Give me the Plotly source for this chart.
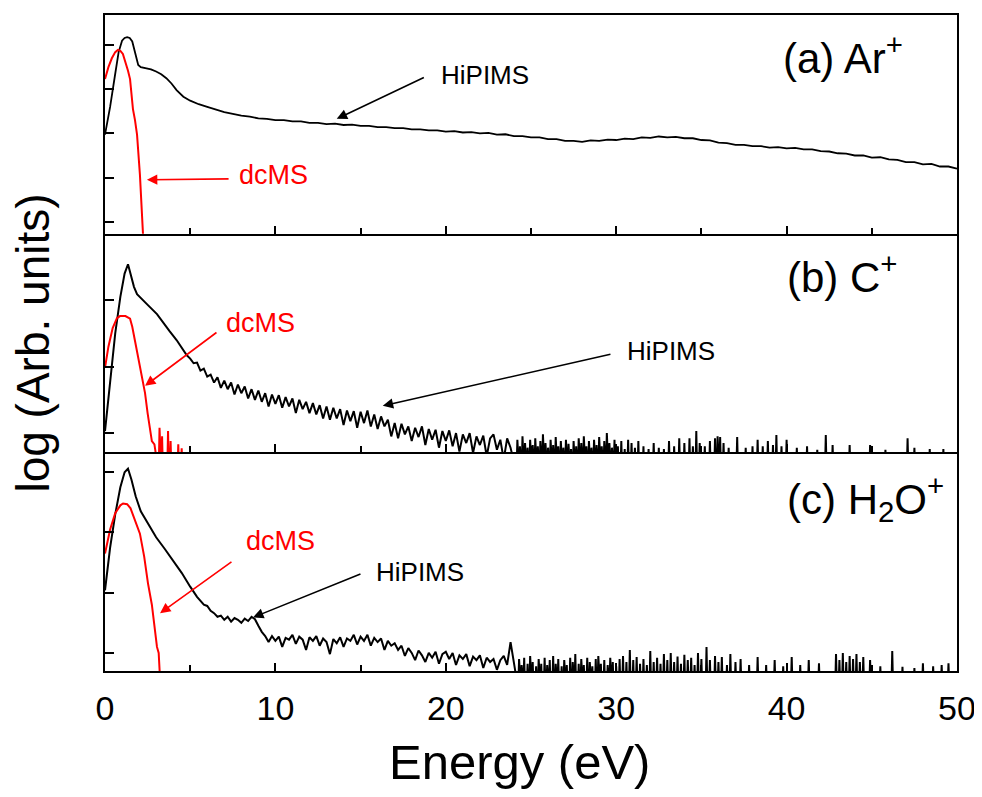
import numpy as np
import plotly.graph_objects as go

# ---------------- data (log10 of intensity, arbitrary units) ----------------
# Panel (a) Ar+
a_hip_e = [0, 0.3, 0.6, 0.8, 1.0, 1.15, 1.3, 1.45, 1.6, 1.8, 1.95, 2.1, 2.4, 2.7, 3.0, 3.3, 3.6, 3.9,
           4.2, 4.6, 5.0, 5.5, 6.0, 6.5, 7.0, 7.5, 8.0, 8.5, 9, 9.5, 10, 10.5, 11, 11.5, 12, 12.5, 13,
           13.5, 14, 14.5, 15, 15.5, 16, 16.5, 17, 17.5, 18, 18.5, 19, 19.5, 20, 20.5, 21, 21.5, 22,
           22.5, 23, 23.5, 24, 24.5, 25, 25.5, 26, 26.5, 27, 27.5, 28, 28.5, 29, 29.5, 30, 30.5, 31,
           31.5, 32, 32.5, 33, 33.5, 34, 34.5, 35, 35.5, 36, 36.5, 37, 37.5, 38, 38.5, 39, 39.5, 40,
           40.5, 41, 41.5, 42, 42.5, 43, 43.5, 44, 44.5, 45, 45.5, 46, 46.5, 47, 47.5, 48, 48.5, 49,
           49.5, 50]
a_hip_log = [1.97, 2.6, 3.35, 3.84, 4.1, 4.16, 4.18, 4.16, 4.08, 3.8, 3.55, 3.5, 3.48, 3.45, 3.40, 3.34,
             3.25, 3.13, 2.98, 2.83, 2.74, 2.66, 2.60, 2.54, 2.48, 2.44, 2.40, 2.38, 2.34, 2.33, 2.30,
             2.30, 2.27, 2.27, 2.24, 2.24, 2.21, 2.22, 2.19, 2.2, 2.17, 2.17, 2.14, 2.14, 2.12, 2.12, 2.09,
             2.09, 2.07, 2.07, 2.04, 2.05, 2.02, 2.03, 2.0, 2.01, 1.97, 1.98, 1.94, 1.94, 1.91, 1.91, 1.87,
             1.87, 1.83, 1.83, 1.81, 1.84, 1.83, 1.86, 1.85, 1.88, 1.87, 1.91, 1.90, 1.93, 1.91, 1.92,
             1.89, 1.89, 1.85, 1.84, 1.79, 1.78, 1.74, 1.74, 1.71, 1.71, 1.68, 1.69, 1.66, 1.67, 1.64,
             1.64, 1.60, 1.59, 1.55, 1.54, 1.50, 1.50, 1.45, 1.46, 1.41, 1.40, 1.35, 1.35, 1.30, 1.31,
             1.25, 1.25, 1.20, 1.20, 1.17]
a_dc_e = [0, 0.2, 0.4, 0.6, 0.76, 0.9, 1.05, 1.2, 1.35, 1.47, 1.64, 1.76, 1.88, 2.05, 2.15, 2.23, 2.3]
a_dc_log = [3.23, 3.5, 3.7, 3.84, 3.89, 3.87, 3.8, 3.62, 3.42, 3.23, 2.55, 2.3, 1.97, 1.06, 0.4, -0.23, -0.8]

# Panel (b) C+
b_hip_e = [0, 0.3, 0.6, 0.9, 1.15, 1.35, 1.5, 1.7, 1.88, 2.2, 2.46, 3.05, 3.4, 3.8, 4.2, 4.58, 4.8,
           5.0, 5.2, 5.4, 5.6, 5.8, 6.0, 6.2, 6.4, 6.6, 6.8, 7.0, 7.2, 7.4, 7.6, 7.8, 8.0, 8.2, 8.4,
           8.6, 8.8, 9.0, 9.2, 9.4, 9.6, 9.8, 10.0, 10.2, 10.4, 10.6, 10.8, 11.0, 11.2, 11.4, 11.6,
           11.8, 12.0, 12.2, 12.4, 12.6, 12.8, 13.0, 13.2, 13.4, 13.6, 13.8, 14.0, 14.2, 14.4, 14.6,
           14.8, 15.0, 15.2, 15.4, 15.6, 15.8, 16.0, 16.2, 16.4, 16.6, 16.8, 17.0, 17.2, 17.4, 17.6,
           17.8, 18.0, 18.2, 18.4, 18.6, 18.8, 19.0, 19.2, 19.4, 19.6, 19.8, 20.0, 20.2, 20.4, 20.6,
           20.8, 21.0, 21.2, 21.4, 21.6, 21.8, 22.0, 22.2, 22.4, 22.6, 22.8, 23.0, 23.2, 23.4, 23.6,
           23.8, 24.0]
b_hip_log = [0.03, 0.8, 1.5, 2.05, 2.4, 2.54, 2.4, 2.2, 2.09, 2.0, 1.94, 1.79, 1.66, 1.53, 1.4, 1.26,
             1.17,
             1.12, 1.05, 1.06, 0.94, 0.97, 0.85, 0.88, 0.76, 0.84, 0.68,
             0.79, 0.66, 0.76, 0.58, 0.73, 0.6, 0.7, 0.52, 0.66, 0.5,
             0.64, 0.47, 0.6, 0.4, 0.58, 0.44, 0.57, 0.38, 0.54, 0.4,
             0.52, 0.3, 0.5, 0.36, 0.47, 0.3, 0.45, 0.28, 0.42, 0.22,
             0.4, 0.2, 0.38, 0.22, 0.36, 0.12, 0.34, 0.18, 0.33, 0.08,
             0.32, 0.15, 0.34, 0.1, 0.28, 0.06, 0.25, 0.1, 0.2, -0.05,
             0.15, -0.08, 0.14, -0.02, 0.1, -0.12, 0.08, -0.06, 0.1, -0.18,
             0.06, -0.1, 0.05, -0.22, 0.03, -0.12, 0.04, -0.2, 0.0, -0.28,
             -0.02, -0.15, 0.0, -0.3, -0.05, -0.18, -0.04, -0.35, -0.08, -0.02,
             -0.25, -0.1, -0.4, -0.08, -0.22, -0.45]
b_hip_spike_e = [24.2, 24.35, 24.5, 24.65, 24.8, 24.95, 25.1, 25.25, 25.4, 25.55, 25.7, 25.85, 26.0,
                 26.15, 26.3, 26.45, 26.6, 26.75, 26.9, 27.05, 27.2, 27.35, 27.5, 27.65, 27.8, 27.95,
                 28.1, 28.25, 28.4, 28.55, 28.7, 28.85, 29.0, 29.15, 29.3, 29.45, 29.6, 29.75, 29.9,
                 30.1, 30.3, 30.5, 30.7, 30.9, 31.1, 31.3, 31.6, 31.9, 32.2, 32.5, 32.8, 33.1, 33.4,
                 33.7, 34.0, 34.3, 34.5, 34.7, 34.9, 35.2, 35.5, 35.8, 35.95, 36.1, 36.3, 36.6, 37.1,
                 37.6, 38.0, 38.3, 38.6, 38.9, 39.2, 39.4, 39.7, 40.0, 40.6, 41.2, 41.8, 42.3, 42.7,
                 43.7, 44.9, 45.8, 47.1, 47.5, 48.4, 49.2]
b_hip_spike_log = [-0.1, -0.2, -0.05, -0.15, -0.22, -0.1, -0.18, -0.08, -0.2, -0.12, -0.02, -0.15,
                   -0.22, -0.1, -0.18, -0.06, -0.2, -0.12, -0.22, -0.1, -0.16, -0.24, -0.12, -0.2,
                   -0.08, -0.15, -0.05, -0.2, -0.12, -0.22, -0.1, -0.18, -0.06, -0.2, -0.12, 0.0,
                   -0.15, -0.22, -0.1, -0.2, -0.12, -0.24, -0.1, -0.15, -0.22, -0.12, -0.2, -0.24,
                   -0.15, -0.22, -0.24, -0.12, -0.2, -0.08, -0.15, -0.08, -0.2, 0.03, -0.15, -0.2,
                   -0.12, -0.08, -0.05, -0.06, -0.15, -0.22, -0.06, -0.22, -0.2, -0.1, -0.2, -0.12,
                   -0.18, -0.03, -0.2, -0.1, -0.22, -0.2, -0.25, -0.03, -0.18, -0.18, -0.18, -0.25,
                   -0.08, -0.22, -0.24, -0.24]
b_dc_e = [0, 0.2, 0.45, 0.7, 0.88, 1.2, 1.47, 1.6, 1.75, 1.9, 2.05, 2.2, 2.35, 2.5, 2.64, 2.75, 2.9]
b_dc_log = [0.98, 1.3, 1.58, 1.73, 1.76, 1.76, 1.72, 1.6, 1.4, 1.2, 0.98, 0.8, 0.6, 0.3, 0.03, -0.12, -0.17]
b_dc_spike_e = [3.2, 3.35, 3.7, 3.85, 4.3, 4.5]
b_dc_spike_log = [0.08, -0.05, 0.03, -0.12, -0.17, -0.23]

# Panel (c) H2O+
c_hip_e = [0, 0.3, 0.6, 0.9, 1.15, 1.35, 1.55, 1.8, 2.1, 2.64, 3.0, 3.5, 4.0, 4.5, 5.0, 5.4, 5.8,
           6.0, 6.2, 6.4, 6.6, 6.8, 7.0, 7.2, 7.4, 7.6, 7.8, 8.0, 8.2, 8.4, 8.6, 8.8, 9.0, 9.2, 9.4,
           9.6, 9.8, 10.0, 10.2, 10.4, 10.6, 10.8, 11.0, 11.2, 11.4, 11.6, 11.8, 12.0, 12.2, 12.4,
           12.6, 12.8, 13.0, 13.2, 13.4, 13.6, 13.8, 14.0, 14.2, 14.4, 14.6, 14.8, 15.0, 15.2, 15.4,
           15.6, 15.8, 16.0, 16.2, 16.4, 16.6, 16.8, 17.0, 17.2, 17.4, 17.6, 17.8, 18.0, 18.2, 18.4,
           18.6, 18.8, 19.0, 19.2, 19.4, 19.6, 19.8, 20.0, 20.2, 20.4, 20.6, 20.8, 21.0, 21.2, 21.4,
           21.6, 21.8, 22.0, 22.2, 22.4, 22.6, 22.8, 23.0, 23.2, 23.4, 23.6, 23.8, 24.0]
c_hip_log = [1.04, 1.75, 2.3, 2.75, 3.0, 3.06, 2.88, 2.6, 2.35, 2.08, 1.92, 1.73, 1.54, 1.33, 1.1,
             0.93, 0.8, 0.78, 0.7, 0.66, 0.6, 0.62, 0.55, 0.6, 0.52, 0.58, 0.55, 0.5, 0.57, 0.53,
             0.6, 0.56, 0.45, 0.35, 0.28, 0.18, 0.28, 0.2, 0.27, 0.1, 0.25, 0.22, 0.3, 0.15, 0.27,
             0.22, 0.05, 0.26, 0.2, 0.28, 0.12, 0.24, 0.18, -0.02, 0.23, 0.16, 0.26, 0.1, 0.24, 0.2,
             0.3, 0.14, 0.27, 0.2, 0.3, 0.12, 0.25, 0.18, 0.24, 0.05, 0.2, 0.12, 0.16, 0.05, 0.12,
             -0.05, 0.08, 0.0, -0.12, 0.04, -0.04, -0.15, 0.0, -0.08, 0.02, -0.18, -0.02, 0.02,
             -0.1, 0.0, -0.2, -0.04, -0.1, -0.02, -0.22, -0.06, -0.12, -0.04, -0.25, -0.08, -0.15,
             -0.1, -0.28, -0.12, -0.05, -0.2, 0.18, -0.2]
c_hip_spike_e = [24.3, 24.45, 24.6, 24.8, 24.95, 25.1, 25.3, 25.45, 25.6, 25.8, 25.95, 26.1, 26.3,
                 26.45, 26.6, 26.8, 26.95, 27.1, 27.3, 27.45, 27.6, 27.8, 27.95, 28.1, 28.3, 28.45,
                 28.6, 28.8, 28.95, 29.1, 29.3, 29.5, 29.65, 29.8, 30.0, 30.2, 30.4, 30.6, 30.8, 31.0,
                 31.2, 31.4, 31.6, 31.8, 32.0, 32.2, 32.4, 32.6, 32.8, 33.0, 33.2, 33.4, 33.6, 33.8,
                 34.0, 34.2, 34.4, 34.6, 34.8, 35.0, 35.3, 35.5, 35.8, 36.0, 36.2, 36.5, 36.7, 37.0,
                 37.3, 37.8, 38.3, 38.8, 39.3, 39.8, 40.3, 40.8, 41.3, 41.9, 42.9, 43.1, 43.3, 43.5,
                 43.7, 43.9, 44.1, 44.3, 44.5, 44.9, 45.5, 46.2, 46.8, 47.5, 48.0, 48.6, 49.1, 49.5]
c_hip_spike_log = [-0.1, -0.2, -0.08, -0.18, -0.05, -0.15, -0.22, -0.1, -0.18, -0.08, -0.2, -0.12,
                   -0.05, -0.18, -0.1, -0.22, -0.12, -0.2, -0.08, -0.15, -0.02, -0.18, -0.1, -0.2,
                   -0.08, -0.15, -0.22, -0.1, -0.05, -0.18, -0.12, -0.2, -0.08, -0.15, -0.22, -0.1,
                   -0.05, -0.15, 0.05, -0.12, -0.07, -0.18, -0.1, -0.2, 0.03, -0.15, -0.08, -0.18,
                   -0.02, -0.12, 0.0, -0.15, -0.06, -0.18, -0.03, -0.12, -0.08, -0.2, 0.0, -0.1, 0.1,
                   -0.12, -0.05, -0.15, -0.07, -0.2, -0.02, -0.15, -0.1, -0.2, -0.07, -0.2, -0.12,
                   -0.22, -0.07, -0.2, -0.12, -0.17, -0.02, -0.12, 0.0, -0.15, -0.05, -0.1, -0.02,
                   -0.15, -0.07, -0.12, -0.22, 0.03, -0.23, -0.25, -0.17, -0.22, -0.2, -0.17]
c_dc_e = [0, 0.3, 0.6, 0.9, 1.06, 1.3, 1.5, 1.75, 2.05, 2.3, 2.52, 2.75, 2.93, 3.05, 3.15, 3.22, 3.3]
c_dc_log = [1.65, 2.05, 2.32, 2.45, 2.48, 2.47, 2.4, 2.2, 1.98, 1.6, 1.16, 0.8, 0.43, 0.1, 0.0, -0.28, -0.8]

NOISE_FLOOR_LOG = -0.6   # zero-count level, below the visible range


def with_spikes(e, v, spike_e, spike_v):
    """Append isolated single-channel spikes rising from the zero-count floor."""
    xs, ys = list(e), list(v)
    for se, sv in zip(spike_e, spike_v):
        xs += [se - 0.05, se, se + 0.05]
        ys += [NOISE_FLOOR_LOG, sv, NOISE_FLOOR_LOG]
    return xs, ys


def lin(v):
    return list(10 ** np.array(v, dtype=float))


BLACK = "#000000"
RED = "#ff0000"
FONT = "Liberation Sans, Arial, sans-serif"

fig = go.Figure()

# panel (a)
fig.add_trace(go.Scatter(x=a_hip_e, y=lin(a_hip_log), mode="lines",
                         line=dict(color=BLACK, width=1.8), xaxis="x", yaxis="y"))
fig.add_trace(go.Scatter(x=a_dc_e, y=lin(a_dc_log), mode="lines",
                         line=dict(color=RED, width=2), xaxis="x", yaxis="y"))
# panel (b)
bx, by = with_spikes(b_hip_e, b_hip_log, b_hip_spike_e, b_hip_spike_log)
fig.add_trace(go.Scatter(x=bx, y=lin(by), mode="lines",
                         line=dict(color=BLACK, width=2), xaxis="x2", yaxis="y2"))
bdx, bdy = with_spikes(b_dc_e, b_dc_log, b_dc_spike_e, b_dc_spike_log)
fig.add_trace(go.Scatter(x=bdx, y=lin(bdy), mode="lines",
                         line=dict(color=RED, width=2), xaxis="x2", yaxis="y2"))
# panel (c)
cx, cy = with_spikes(c_hip_e, c_hip_log, c_hip_spike_e, c_hip_spike_log)
fig.add_trace(go.Scatter(x=cx, y=lin(cy), mode="lines",
                         line=dict(color=BLACK, width=2), xaxis="x3", yaxis="y3"))
fig.add_trace(go.Scatter(x=c_dc_e, y=lin(c_dc_log), mode="lines",
                         line=dict(color=RED, width=2), xaxis="x3", yaxis="y3"))

xcommon = dict(range=[0, 50], tick0=0, dtick=10, ticks="inside", ticklen=8, tickwidth=1.5,
               tickcolor=BLACK, minor=dict(ticks="inside", dtick=5, ticklen=6, tickwidth=1.5,
                                           tickcolor=BLACK),
               showline=True, linecolor=BLACK, linewidth=2,
               showgrid=False, zeroline=False)
ycommon = dict(type="log", dtick=1, ticks="inside", ticklen=9, tickwidth=1.5, tickcolor=BLACK,
               showticklabels=False, showline=True, linecolor=BLACK, linewidth=2, mirror=True,
               showgrid=False, zeroline=False)

# the page body adds an 8px offset, so the figure is sized to fit the 982x797 window
fig.update_layout(
    width=974, height=781,
    margin=dict(l=97, r=25, t=5, b=118),
    paper_bgcolor="white", plot_bgcolor="white",
    showlegend=False,
    font=dict(family=FONT, color=BLACK),
    xaxis=dict(xcommon, anchor="y", mirror=True, showticklabels=False),
    xaxis2=dict(xcommon, anchor="y2", matches="x", mirror=False, showticklabels=False),
    xaxis3=dict(xcommon, anchor="y3", matches="x", mirror=False, showticklabels=True,
                tickfont=dict(size=34, family=FONT), ticklabelstandoff=6),
    yaxis=dict(ycommon, domain=[2 / 3, 1], range=[-0.27, 4.68]),
    yaxis2=dict(ycommon, domain=[1 / 3, 2 / 3], range=[-0.29, 3.0]),
    yaxis3=dict(ycommon, domain=[0, 1 / 3], range=[-0.30, 3.33]),
)

ann = []


def text(xref, yref, x, y, t, color, size, anchor="center"):
    ann.append(dict(xref=xref, yref=yref, x=x, y=y, text=t, showarrow=False,
                    font=dict(size=size, color=color, family=FONT), xanchor=anchor,
                    yanchor="middle"))


def arrow(xref, yref, x, y, ax, ay, color):
    ann.append(dict(xref=xref, yref=yref, x=x, y=y, ax=ax, ay=ay, axref=xref, ayref=yref,
                    text="", showarrow=True, arrowhead=2, arrowsize=1.3, arrowwidth=1.6,
                    arrowcolor=color))


# panel (a)
text("x", "y", 22.3, 3.32, "HiPIMS", BLACK, 26)
arrow("x", "y", 13.6, 2.33, 18.8, 3.28, BLACK)
text("x", "y", 9.86, 1.06, "dcMS", RED, 27)
arrow("x", "y", 2.46, 0.95, 7.34, 0.97, RED)
text("x", "y", 39.7, 3.77, "(a) Ar<sup>+</sup>", BLACK, 42, "left")
# panel (b)
text("x2", "y2", 9.15, 1.65, "dcMS", RED, 27)
arrow("x2", "y2", 2.35, 0.71, 6.63, 1.53, RED)
text("x2", "y2", 33.2, 1.23, "HiPIMS", BLACK, 26)
arrow("x2", "y2", 16.3, 0.41, 29.75, 1.19, BLACK)
text("x2", "y2", 39.9, 2.39, "(b) C<sup>+</sup>", BLACK, 42, "left")
# panel (c)
text("x3", "y3", 10.27, 1.86, "dcMS", RED, 27)
arrow("x3", "y3", 3.23, 0.66, 7.51, 1.53, RED)
text("x3", "y3", 18.5, 1.34, "HiPIMS", BLACK, 26)
arrow("x3", "y3", 8.69, 0.59, 15.08, 1.32, BLACK)
text("x3", "y3", 39.9, 2.57, "(c) H<sub>2</sub>O<sup>+</sup>", BLACK, 42, "left")

# axis titles
ann.append(dict(xref="paper", yref="paper", x=-0.085, y=0.5, text="log (Arb. units)",
                textangle=-90, showarrow=False, font=dict(size=46, family=FONT, color=BLACK),
                xanchor="center", yanchor="middle"))
ann.append(dict(xref="paper", yref="paper", x=0.487, y=-0.138, text="Energy (eV)",
                showarrow=False, font=dict(size=49, family=FONT, color=BLACK),
                xanchor="center", yanchor="middle"))

fig.update_layout(annotations=ann)
fig.write_html("out.html")
